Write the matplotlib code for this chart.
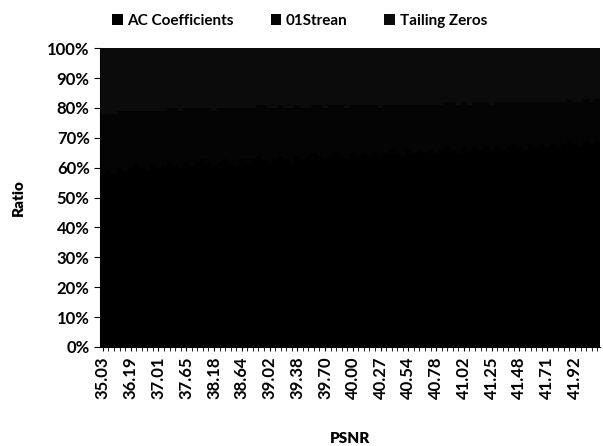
import matplotlib.pyplot as plt
import numpy as np

plt.rcParams['font.family'] = ['Lato', 'DejaVu Sans']

# shown PSNR labels (every 5th category)
psnr_labels = ['35.03', '36.19', '37.01', '37.65', '38.18', '38.64', '39.02', '39.38', '39.70',
               '40.00', '40.27', '40.54', '40.78', '41.02', '41.25', '41.48', '41.71', '41.92']

# percentages per category (90 categories)
ac_coeff = [58, 59, 58, 60, 59, 60, 61, 60, 59, 61,
            60, 61, 62, 61, 60, 62, 61, 62, 63, 62,
            61, 62, 63, 62, 61, 63, 62, 63, 64, 63,
            62, 63, 64, 63, 62, 64, 63, 64, 65, 64,
            63, 64, 65, 64, 63, 65, 64, 65, 64, 65,
            64, 65, 66, 65, 64, 66, 65, 66, 65, 66,
            65, 66, 67, 66, 65, 67, 66, 67, 66, 67,
            66, 67, 66, 67, 68, 67, 66, 68, 67, 68,
            67, 68, 67, 68, 69, 68, 67, 69, 68, 69]
stream01 = [20, 19, 20, 19, 20, 19, 18, 19, 20, 18,
            19, 18, 18, 19, 19, 18, 19, 18, 17, 18,
            18, 18, 17, 18, 19, 17, 18, 17, 17, 18,
            18, 17, 17, 17, 18, 17, 17, 16, 16, 17,
            17, 17, 16, 17, 17, 16, 17, 16, 17, 16,
            16, 16, 15, 16, 17, 15, 16, 15, 16, 15,
            16, 15, 15, 16, 16, 15, 15, 15, 16, 15,
            15, 15, 16, 15, 14, 15, 16, 14, 15, 14,
            15, 14, 15, 14, 14, 14, 15, 14, 14, 14]
tailing = [100 - a - s for a, s in zip(ac_coeff, stream01)]

x = np.arange(len(ac_coeff))
fig = plt.figure(figsize=(6.03, 4.46), dpi=100)
ax = fig.add_axes([0.166, 0.222, 0.829, 0.67])

ac = np.array(ac_coeff) / 100
st = np.array(stream01) / 100
tz = np.array(tailing) / 100
ax.bar(x, ac, width=1.0, color='#000000', label='AC Coefficients')
ax.bar(x, st, width=1.0, bottom=ac, color='#040404', label='01Strean')
ax.bar(x, tz, width=1.0, bottom=ac + st, color='#0b0b0b', label='Tailing Zeros')

ax.set_xlim(-0.5, len(x) - 0.5)
ax.set_ylim(0, 1)
yt = np.arange(0, 1.01, 0.1)
ax.set_yticks(yt)
ax.set_yticklabels([f'{int(round(v * 100))}%' for v in yt], fontsize=12, fontweight='bold')
ax.set_xticks(x[::5])
ax.set_xticklabels(psnr_labels, rotation=90, fontsize=12, fontweight='bold')
ax.set_xticks(x, minor=True)
ax.tick_params(axis='x', which='both', direction='out', length=3)
ax.tick_params(axis='y', direction='out', length=4)

for s in ['top', 'right']:
    ax.spines[s].set_visible(False)

ax.set_ylabel('Ratio', fontsize=11, fontweight='heavy', labelpad=16)
ax.set_xlabel('PSNR', fontsize=11, fontweight='heavy', labelpad=24)

fig.legend(*ax.get_legend_handles_labels(), loc='upper center', bbox_to_anchor=(0.497, 1.0),
           ncol=3, frameon=False, prop={'size': 11, 'weight': 'bold'},
           handlelength=0.7, handleheight=0.7, columnspacing=2.4, handletextpad=0.3)

fig.savefig('out.png', dpi=100)
